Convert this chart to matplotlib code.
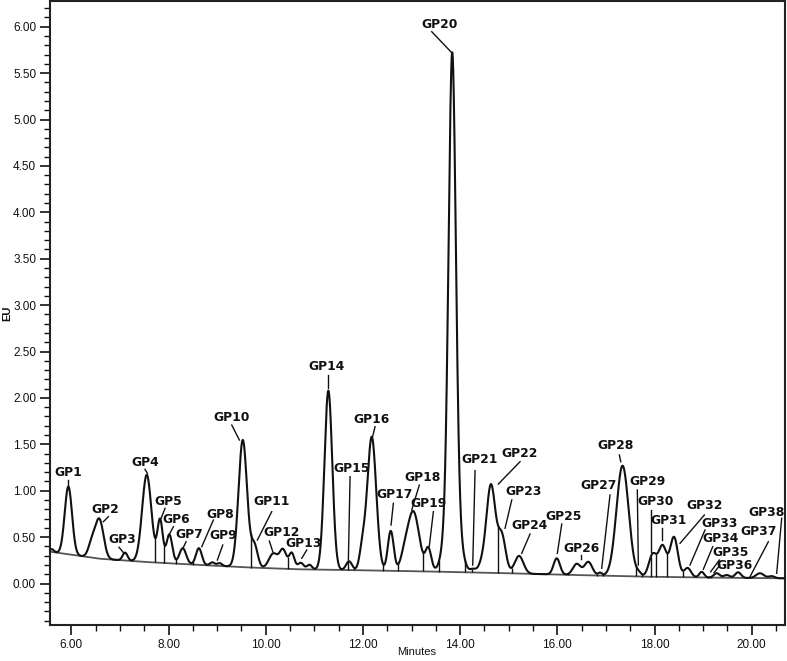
import numpy as np
import matplotlib
matplotlib.use("Agg")
import matplotlib.pyplot as plt
from matplotlib.ticker import MultipleLocator, FormatStrFormatter

# ---------------- data ----------------
# drawn integration baseline (minutes, EU)
baseline_t = [5.56, 6.59, 7.6, 8.65, 9.7, 10.71, 11.94, 13.5, 15.03, 16.5, 17.91, 19.3, 20.7]
baseline_v = [0.343, 0.267, 0.23, 0.20, 0.172, 0.153, 0.143, 0.128, 0.11, 0.09, 0.073, 0.063, 0.056]

# peaks: retention time (min), height above baseline (EU), width (sigma, min)
peak_t = [5.60, 5.938, 6.42, 6.576, 7.105, 7.551, 7.825, 8.016, 8.292, 8.623,
          8.90, 9.05, 9.527, 9.765, 10.156, 10.356, 10.535, 10.72, 10.90, 11.288,
          11.714, 11.99, 12.181, 12.572, 12.85, 13.037, 13.346, 13.837, 13.837, 14.26,
          14.47, 14.636, 14.856, 15.212, 15.988, 16.40, 16.638, 16.88, 17.342, 17.68,
          17.963, 18.165, 18.40, 18.68, 18.97, 19.28, 19.485, 19.72, 20.17, 20.41]
peak_h = [0.03, 0.73, 0.15, 0.42, 0.085, 0.94, 0.46, 0.31, 0.17, 0.18,
          0.035, 0.03, 1.37, 0.24, 0.16, 0.20, 0.17, 0.07, 0.05, 1.93,
          0.095, 0.22, 1.44, 0.43, 0.12, 0.64, 0.24, 4.6, 1.0, 0.03,
          0.10, 0.93, 0.40, 0.19, 0.175, 0.12, 0.145, 0.03, 1.19, 0.03,
          0.24, 0.33, 0.43, 0.10, 0.06, 0.048, 0.03, 0.06, 0.052, 0.022]
peak_w = [0.04, 0.075, 0.07, 0.085, 0.05, 0.095, 0.055, 0.06, 0.07, 0.06,
          0.05, 0.05, 0.088, 0.068, 0.09, 0.07, 0.055, 0.06, 0.05, 0.08,
          0.06, 0.06, 0.092, 0.06, 0.08, 0.12, 0.06, 0.072, 0.13, 0.05,
          0.09, 0.09, 0.08, 0.09, 0.065, 0.08, 0.08, 0.04, 0.125, 0.05,
          0.08, 0.08, 0.08, 0.07, 0.05, 0.06, 0.06, 0.06, 0.08, 0.06]

# integration drop lines (minutes)
drop_t = [7.24, 7.722, 7.914, 8.154, 8.498, 8.786, 9.691, 10.453, 11.70, 11.817,
          12.42, 12.728, 13.23, 13.572, 14.10, 14.25, 14.786, 15.06, 16.226, 16.82,
          16.94, 17.62, 17.74, 17.92, 18.03, 18.25, 18.59, 19.11, 19.16, 20.51]

# peak labels: name, text position (min, EU), leader start, leader end
labels = ["GP%d" % i for i in range(1, 39)]
label_pos = [(5.938, 1.198), (6.693, 0.800), (7.037, 0.476), (7.516, 1.302), (7.996, 0.881),
             (8.154, 0.695), (8.428, 0.523), (9.060, 0.746), (9.128, 0.515), (9.300, 1.794),
             (10.123, 0.881), (10.329, 0.555), (10.774, 0.433), (11.255, 2.336), (11.770, 1.241),
             (12.181, 1.769), (12.660, 0.954), (13.230, 1.140), (13.346, 0.857), (13.572, 6.029),
             (14.395, 1.331), (15.233, 1.403), (15.300, 0.989), (15.424, 0.630), (16.123, 0.727),
             (16.502, 0.379), (16.844, 1.051), (17.208, 1.492), (17.860, 1.097), (18.031, 0.881),
             (18.298, 0.677), (19.025, 0.838), (19.333, 0.649), (19.368, 0.487), (19.568, 0.332),
             (19.656, 0.199), (20.136, 0.558), (20.309, 0.763)]
leader_a = [(5.938, 1.115), (6.761, 0.720), (6.981, 0.390), (7.516, 1.231), (7.928, 0.810),
            (8.099, 0.612), (8.360, 0.450), (8.922, 0.684), (9.115, 0.415), (9.300, 1.708),
            (10.123, 0.774), (10.074, 0.458), (10.844, 0.361), (11.288, 2.247), (11.735, 1.151),
            (12.249, 1.690), (12.626, 0.864), (13.160, 1.061), (13.449, 0.774), (13.416, 5.946),
            (14.307, 1.216), (15.233, 1.313), (15.062, 0.900), (15.438, 0.533), (16.091, 0.641),
            (16.488, 0.307), (17.084, 0.954), (17.276, 1.385), (17.646, 1.008), (17.922, 0.792),
            (18.160, 0.595), (19.025, 0.738), (19.039, 0.577), (19.198, 0.397), (19.333, 0.253),
            (19.348, 0.199), (20.342, 0.450), (20.617, 0.703)]
leader_b = [(5.938, 1.061), (6.658, 0.666), (7.084, 0.325), (7.564, 1.188), (7.846, 0.703),
            (8.016, 0.530), (8.305, 0.390), (8.683, 0.397), (9.004, 0.253), (9.457, 1.546),
            (9.827, 0.469), (10.144, 0.343), (10.741, 0.272), (11.288, 2.103), (11.700, 0.253),
            (12.202, 1.589), (12.578, 0.630), (13.004, 0.792), (13.366, 0.404), (13.827, 5.720),
            (14.259, 0.199), (14.786, 1.072), (14.924, 0.595), (15.267, 0.325), (16.000, 0.325),
            (16.488, 0.261), (16.913, 0.164), (17.305, 1.313), (17.667, 0.199), (17.922, 0.343),
            (18.160, 0.469), (18.525, 0.433), (18.730, 0.199), (19.004, 0.153), (19.156, 0.127),
            (19.224, 0.116), (19.965, 0.073), (20.514, 0.110)]

# ---------------- build trace ----------------
t = np.linspace(5.56, 20.69, 4000)
drift = np.interp(t, baseline_t, baseline_v)
signal = drift.copy()
for c, h, w in zip(peak_t, peak_h, peak_w):
    signal += h * np.exp(-0.5 * ((t - c) / w) ** 2)

def sig_at(x):
    return np.interp(x, t, signal)

# ---------------- figure ----------------
plt.rcParams['font.family'] = ['Liberation Sans', 'DejaVu Sans']
fig = plt.figure(figsize=(7.87, 6.61), dpi=100)
ax = fig.add_axes([50 / 787, 1 - 625 / 661, 735 / 787, 624 / 661])

ax.plot(baseline_t, baseline_v, color='#555555', lw=1.3, zorder=2)
ax.plot(t, signal, color='#111111', lw=1.5, zorder=3)

dt = np.array(drop_t)
ax.vlines(dt, np.interp(dt, baseline_t, baseline_v), sig_at(dt), color='#111111', lw=1.0, zorder=3)

for name, (tx, ty), (ax1, ay1), (ax2, ay2) in zip(labels, label_pos, leader_a, leader_b):
    ax.plot([ax1, ax2], [ay1, ay2], color='#111111', lw=1.0, zorder=3)
    ax.text(tx, ty, name, ha='center', va='center', fontsize=8.9, fontweight='bold',
            family=['DejaVu Sans'], color='#111111', zorder=4)

ax.set_xlim(5.56, 20.685)
ax.set_ylim(-0.447, 6.277)
ax.xaxis.set_major_locator(MultipleLocator(2.0))
ax.xaxis.set_minor_locator(MultipleLocator(0.5))
ax.yaxis.set_major_locator(MultipleLocator(0.5))
ax.yaxis.set_minor_locator(MultipleLocator(0.1))
ax.xaxis.set_major_formatter(FormatStrFormatter('%.2f'))
ax.yaxis.set_major_formatter(FormatStrFormatter('%.2f'))
ax.tick_params(axis='both', which='major', direction='out', length=7, width=1.2,
               labelsize=8.5, colors='#111111', pad=3)
ax.tick_params(axis='both', which='minor', direction='out', length=4, width=1.0, colors='#111111')
for s in ax.spines.values():
    s.set_linewidth(1.5)
    s.set_color('#222222')

fig.text(7 / 787, 1 - 313 / 661, 'EU', rotation=90, ha='center', va='center',
         fontsize=8, fontweight='bold', color='#111111')
fig.text(417 / 787, 1 - 652 / 661, 'Minutes', ha='center', va='center',
         fontsize=8, color='#111111')

fig.savefig('out.png', dpi=100)
